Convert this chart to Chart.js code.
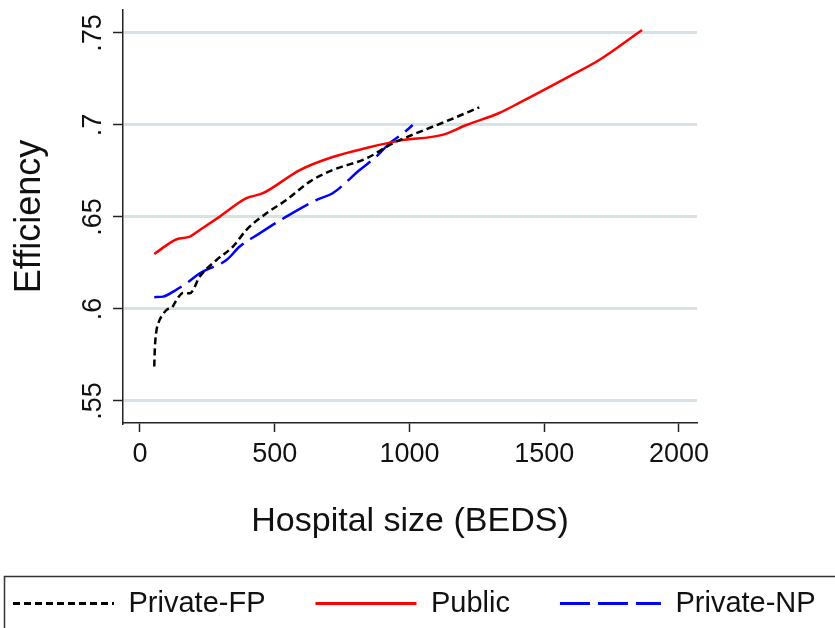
<!DOCTYPE html>
<html>
<head>
<meta charset="utf-8">
<script src="https://cdn.jsdelivr.net/npm/chart.js@4.4.1/dist/chart.umd.min.js"></script>
<style>
  html, body { margin: 0; padding: 0; background: #fff; }
  canvas { display: block; }
</style>
</head>
<body>
<canvas id="effChart" width="835" height="628"></canvas>
<script>
// axis ticks
const xTicks = [0, 500, 1000, 1500, 2000];
const yTicks = [0.55, 0.6, 0.65, 0.7, 0.75];
const yTickLabels = ['.55', '.6', '.65', '.7', '.75'];

// Private-FP (black short dash)
const fpBeds = [53, 55, 60, 70, 85, 99, 120, 136, 160, 185, 222, 284, 345, 395, 469, 543, 630, 715, 841, 938, 1025, 1148, 1259];
const fpEff = [0.5687, 0.578, 0.587, 0.593, 0.597, 0.5995, 0.601, 0.605, 0.6087, 0.6085, 0.6176, 0.6266, 0.6339, 0.643, 0.652, 0.6592, 0.6692, 0.6755, 0.6819, 0.690, 0.6955, 0.7027, 0.7096];

// Public (red solid)
const pubBeds = [53, 136, 185, 222, 296, 395, 456, 593, 715, 841, 963, 1122, 1211, 1333, 1407, 1581, 1704, 1863];
const pubEff = [0.6299, 0.6379, 0.6393, 0.6429, 0.6502, 0.6602, 0.6629, 0.6755, 0.6826, 0.6875, 0.6915, 0.6946, 0.7000, 0.7065, 0.7120, 0.7255, 0.7353, 0.7516];

// Private-NP (blue long dash)
const npBeds = [53, 86, 130, 173, 222, 321, 370, 444, 543, 654, 715, 815, 877, 926, 981, 1012];
const npEff = [0.6064, 0.6067, 0.610, 0.614, 0.6194, 0.6266, 0.6339, 0.6411, 0.6502, 0.6592, 0.6629, 0.6755, 0.6828, 0.690, 0.696, 0.700];

const SANS = '"Liberation Sans", Arial, sans-serif';
const AXIS = '#222';

function pts(xs, ys) {
    return xs.map((x, i) => ({ x: x, y: ys[i] }));
}

// box drawn round the legend, open on the right and bottom like the original
const legendFrame = {
    id: 'legendFrame',
    afterDraw(chart) {
        const lg = chart.legend;
        const c = chart.ctx;
        c.save();
        c.strokeStyle = '#333';
        c.lineWidth = 1.5;
        c.strokeRect(4.5, lg.top + 37.5, 900, 100);
        c.restore();
    }
};

const ctx = document.getElementById('effChart').getContext('2d');
const chart = new Chart(ctx, {
    type: 'line',
    data: {
        datasets: [
            {
                label: 'Private-FP',
                data: pts(fpBeds, fpEff),
                borderColor: '#000000',
                borderWidth: 2.5,
                borderDash: [7, 4],
                pointRadius: 0,
                cubicInterpolationMode: 'monotone'
            },
            {
                label: 'Public',
                data: pts(pubBeds, pubEff),
                borderColor: '#ff0000',
                borderWidth: 2.5,
                pointRadius: 0,
                cubicInterpolationMode: 'monotone'
            },
            {
                label: 'Private-NP',
                data: pts(npBeds, npEff),
                borderColor: '#0000ff',
                borderWidth: 2.5,
                borderDash: [30, 8],
                pointRadius: 0,
                cubicInterpolationMode: 'monotone'
            }
        ]
    },
    options: {
        responsive: false,
        animation: false,
        devicePixelRatio: 1,
        layout: { padding: { top: 10, left: -37, right: -50, bottom: 0 } },
        plugins: {
            tooltip: { enabled: false },
            legend: {
                position: 'bottom',
                align: 'start',
                labels: {
                    usePointStyle: true,
                    pointStyle: 'line',
                    pointStyleWidth: 101,
                    padding: 50,
                    color: '#111',
                    font: { family: SANS, size: 29 },
                    // line samples keep the dataset dash pattern
                    generateLabels: c => Chart.defaults.plugins.legend.labels.generateLabels(c).map(item => {
                        const ds = c.data.datasets[item.datasetIndex];
                        item.lineDash = ds.borderDash || [];
                        item.strokeStyle = ds.borderColor;
                        item.lineWidth = 3;
                        return item;
                    })
                }
            }
        },
        scales: {
            x: {
                type: 'linear',
                position: 'bottom',
                min: -63,
                max: 2067,
                afterBuildTicks: s => { s.ticks = xTicks.map(v => ({ value: v })); },
                afterFit: s => { s.height = 116; s.paddingLeft = 0; s.paddingRight = 0; },
                ticks: {
                    autoSkip: false,
                    maxRotation: 0,
                    padding: 6,
                    color: '#111',
                    font: { family: SANS, size: 27 },
                    callback: v => String(v)
                },
                grid: { drawOnChartArea: false, tickLength: 9, tickColor: AXIS, tickWidth: 1.5 },
                border: { color: AXIS, width: 1.5 },
                title: {
                    display: true,
                    text: 'Hospital size (BEDS)',
                    color: '#111',
                    font: { family: SANS, size: 34, lineHeight: 1 },
                    padding: { top: 0, bottom: 0 }
                }
            },
            y: {
                type: 'linear',
                position: 'left',
                min: 0.538,
                max: 0.7625,
                afterBuildTicks: s => { s.ticks = yTicks.map(v => ({ value: v })); },
                afterFit: s => { s.width = 160; s.paddingTop = 0; s.paddingBottom = 0; },
                ticks: {
                    autoSkip: false,
                    minRotation: 90,
                    maxRotation: 90,
                    crossAlign: 'center',
                    padding: 1,
                    color: '#111',
                    font: { family: SANS, size: 27 },
                    callback: v => yTickLabels[yTicks.indexOf(v)]
                },
                grid: { color: '#d7e2e6', lineWidth: 3, tickLength: 10, tickColor: AXIS, tickWidth: 1.5 },
                border: { color: AXIS, width: 1.5 },
                title: {
                    display: true,
                    text: 'Efficiency',
                    color: '#111',
                    font: { family: SANS, size: 36, lineHeight: 1 },
                    padding: { top: 49, bottom: 0 }
                }
            },
            yR: {
                type: 'linear',
                position: 'right',
                display: true,
                afterFit: s => { s.width = 188; s.paddingTop = 0; s.paddingBottom = 0; },
                ticks: { display: false },
                grid: { display: false },
                border: { display: false }
            }
        }
    },
    plugins: [legendFrame]
});
</script>
</body>
</html>
